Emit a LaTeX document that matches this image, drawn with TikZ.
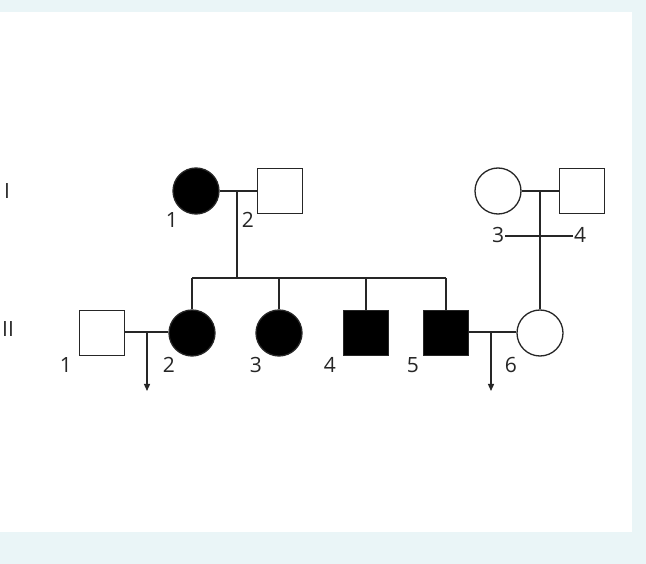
\documentclass[tikz,border=0pt]{standalone}
\usepackage{fontspec}
\setmainfont{Open Sans}
\usetikzlibrary{arrows.meta}
\definecolor{bgblue}{HTML}{EAF5F7}
\definecolor{ink}{HTML}{262626}
\tikzset{
  person/.style={draw=ink, line width=1.3pt, inner sep=0pt},
  female/.style={person, circle, minimum size=46pt},
  male/.style={person, rectangle, minimum size=45pt},
  affected/.style={fill=black},
  unaffected/.style={fill=white},
  lnk/.style={draw=ink, line width=1.3pt},
  num/.style={text=ink, font=\fontsize{21}{21}\selectfont, inner sep=0pt},
  offspring/.style={lnk, -{Triangle[length=7pt,width=6pt]}}
}
\begin{document}
\begin{tikzpicture}[x=1pt,y=-1pt]
\useasboundingbox (0,0) rectangle (646,564);
\fill[bgblue] (0,0) rectangle (646,564);
\fill[white] (0,12) rectangle (632,532);

% generation labels
\node[num] (genI) at (7,191) {I};
\node[num] (genII) at (8,329) {II};

% generation I
\node[female, affected] (I1) at (196,191) {};
\node[male, unaffected] (I2) at (280,191) {};
\node[female, unaffected] (I3) at (498,191) {};
\node[male, unaffected] (I4) at (582,191) {};

% generation II
\node[male, unaffected] (II1) at (102,333) {};
\node[female, affected] (II2) at (192,333) {};
\node[female, affected] (II3) at (279,333) {};
\node[male, affected] (II4) at (366,333) {};
\node[male, affected] (II5) at (446,333) {};
\node[female, unaffected] (II6) at (540,333) {};

% numbers
\node[num] (nI1) at (172,220) {1};
\node[num] (nI2) at (248,220) {2};
\node[num] (nI3) at (498,235) {3};
\node[num] (nI4) at (580,235) {4};
\node[num] (nII1) at (66,365) {1};
\node[num] (nII2) at (169,365) {2};
\node[num] (nII3) at (256,365) {3};
\node[num] (nII4) at (330,365) {4};
\node[num] (nII5) at (413,365) {5};
\node[num] (nII6) at (511,365) {6};

% coordinates
\coordinate (m1) at (237,191);
\coordinate (sib) at (237,278);
\coordinate (m2) at (540,191);
\coordinate (m3) at (147,332);
\coordinate (e3) at (147,391);
\coordinate (m4) at (491,332);
\coordinate (e4) at (491,391);
\coordinate (cx1) at (505,236);
\coordinate (cx2) at (573,236);

% matings
\draw[lnk] (I1.east) -- (I2.west);
\draw[lnk] (I3.east) -- (I4.west);
\draw[lnk] (II1.east |- m3) -- (II2.west |- m3);
\draw[lnk] (II5.east |- m4) -- (II6.west |- m4);

% descent
\draw[lnk] (m1) -- (sib);
\draw[lnk] (II2.north |- sib) -- (II5.north |- sib);
\draw[lnk] (II2.north |- sib) -- (II2.north);
\draw[lnk] (II3.north |- sib) -- (II3.north);
\draw[lnk] (II4.north |- sib) -- (II4.north);
\draw[lnk] (II5.north |- sib) -- (II5.north);
\draw[lnk] (m2) -- (II6.north);
\draw[lnk] (cx1) -- (cx2);

% offspring arrows
\draw[offspring] (m3) -- (e3);
\draw[offspring] (m4) -- (e4);
\end{tikzpicture}
\end{document}
